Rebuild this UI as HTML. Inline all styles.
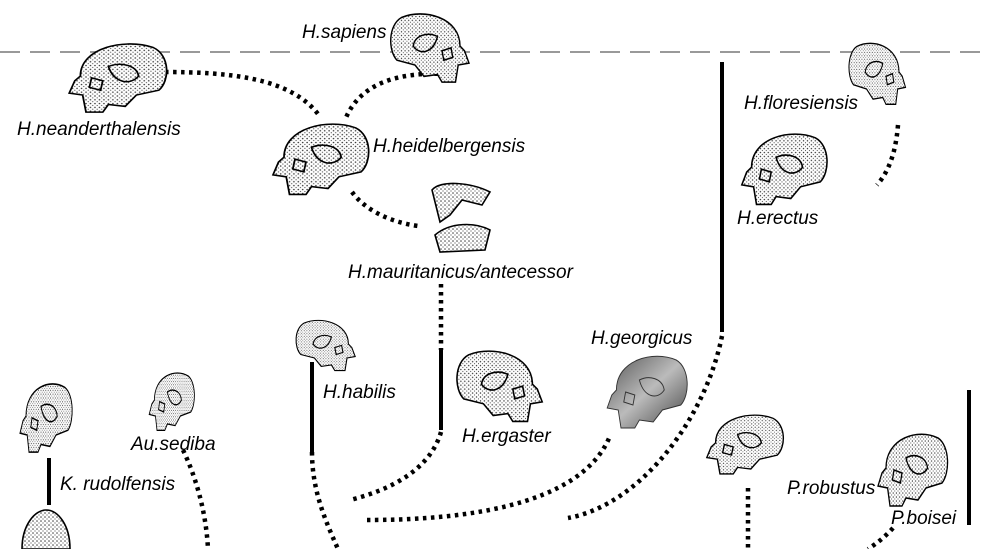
<!DOCTYPE html>
<html><head><meta charset="utf-8"><style>
html,body{margin:0;padding:0;background:#fff;}
svg{display:block;}
text{font-family:"Liberation Sans",sans-serif;font-style:italic;font-size:19px;fill:#000;}
</style></head><body>
<svg width="990" height="549" viewBox="0 0 990 549" xmlns="http://www.w3.org/2000/svg">
<defs>
<pattern id="st" width="4" height="4" patternUnits="userSpaceOnUse">
<rect width="4" height="4" fill="#fff"/><circle cx="1" cy="1" r="0.75" fill="#333"/><circle cx="3" cy="3" r="0.6" fill="#555"/>
</pattern>
<linearGradient id="gg" x1="0" y1="0" x2="1" y2="1"><stop offset="0" stop-color="#555"/><stop offset="0.5" stop-color="#bbb"/><stop offset="1" stop-color="#444"/></linearGradient>
<path id="sk" d="M20,40 C20,10 60,0 85,10 C100,18 100,45 90,55 L70,60 L60,72 L45,70 L40,78 L25,78 L22,60 L10,58 L15,45 Z M45,30 C55,25 70,28 72,40 C65,50 50,48 45,30 Z M30,42 L40,45 L38,55 L28,52 Z"/>
</defs>
<line x1="0" y1="52" x2="990" y2="52" stroke="#999" stroke-width="2" stroke-dasharray="20 10"/>

<g fill="none" stroke="#000" stroke-width="4.5" stroke-dasharray="3.5 4.5">
<path d="M165,72 C230,72 290,78 318,114"/>
<path d="M446,74 C400,72 360,82 345,120"/>
<path d="M352,192 C365,210 390,222 418,226"/>
<path d="M441,284 L441,350"/>
<path d="M441,432 C430,470 390,490 350,500"/>
<path d="M312,452 C312,490 325,520 338,549"/>
<path d="M367,520 C450,520 580,510 610,436"/>
<path d="M722,336 C705,420 640,505 568,518"/>
<path d="M898,125 C896,150 890,170 877,185"/>
<path d="M183,450 C195,475 206,510 208,549"/>
<path d="M748,488 L748,549"/>
<path d="M893,528 C885,537 876,544 868,549"/>
</g>
<g stroke="#000" stroke-width="4">
<line x1="441" y1="350" x2="441" y2="430"/>
<line x1="312" y1="362" x2="312" y2="452"/>
<line x1="722" y1="62" x2="722" y2="332"/>
<line x1="49" y1="458" x2="49" y2="505"/>
<line x1="969" y1="390" x2="969" y2="525"/>
</g>

<g fill="url(#st)" stroke="#000" stroke-width="1.6">
<use href="#sk" transform="translate(478,8) scale(-0.9,0.95)"/>
<use href="#sk" transform="translate(58,38) scale(1.12,0.95)"/>
<use href="#sk" transform="translate(262,118) scale(1.1,0.98)"/>
<path d="M432,190 C440,180 470,182 490,192 L482,205 L462,200 L450,215 L440,222 Z M435,235 C450,222 475,222 490,230 L485,250 L440,252 Z"/>
<use href="#sk" transform="translate(912,38) scale(-0.65,0.85)"/>
<use href="#sk" transform="translate(732,128) scale(0.98,0.98)"/>
<use href="#sk" transform="translate(362,316) scale(-0.68,0.7)"/>
<use href="#sk" transform="translate(552,345) scale(-0.98,0.98)"/>
<use href="#sk" transform="translate(14,378) scale(0.6,0.95)"/>
<use href="#sk" transform="translate(144,368) scale(0.52,0.8)"/>
<use href="#sk" transform="translate(698,410) scale(0.88,0.82)"/>
<use href="#sk" transform="translate(870,428) scale(0.8,1.0)"/>
<path d="M22,549 C22,525 35,510 46,510 C58,510 70,525 70,549 Z"/>
</g>
<use href="#sk" transform="translate(598,350) scale(0.92,1.0)" fill="url(#gg)" stroke="#333" stroke-width="1"/>

<text x="302" y="38">H.sapiens</text>
<text x="17" y="135">H.neanderthalensis</text>
<text x="373" y="152">H.heidelbergensis</text>
<text x="348" y="278">H.mauritanicus/antecessor</text>
<text x="744" y="109">H.floresiensis</text>
<text x="737" y="224">H.erectus</text>
<text x="591" y="344">H.georgicus</text>
<text x="323" y="398">H.habilis</text>
<text x="462" y="442">H.ergaster</text>
<text x="131" y="450">Au.sediba</text>
<text x="60" y="490">K. rudolfensis</text>
<text x="787" y="494">P.robustus</text>
<text x="891" y="524">P.boisei</text>
</svg>
</body></html>
